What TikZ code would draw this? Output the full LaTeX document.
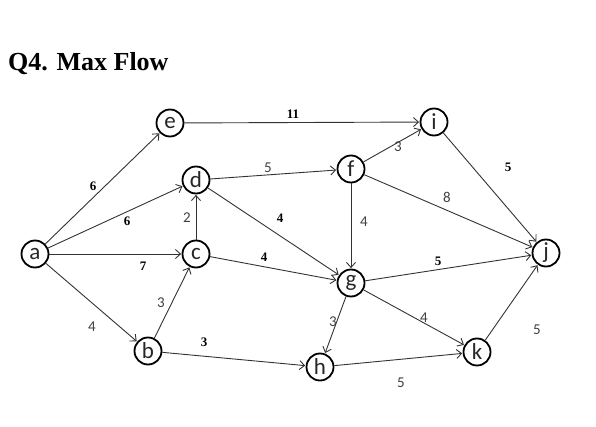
\documentclass[tikz,border=0pt]{standalone}
\usepackage{fontspec}
\setmainfont{Liberation Serif}
\newfontfamily\nodefont{Carlito}
\usetikzlibrary{arrows.meta}
\tikzset{
  vtx/.style={circle,draw=black,line width=1.8pt,minimum size=27pt,inner sep=0pt,font=\nodefont\fontsize{23}{23}\selectfont,text=black!85},
  edge/.style={draw=black!80,line width=0.9pt,-{Straight Barb[length=5pt,width=9pt,line width=0.9pt]},shorten >=0.5pt},
  wsans/.style={font=\nodefont\fontsize{15}{15}\selectfont,text=black!75,inner sep=0pt},
  wbold/.style={font=\bfseries\fontsize{13}{13}\selectfont,inner sep=0pt},
  title/.style={font=\bfseries\fontsize{26}{26}\selectfont,anchor=base west,inner sep=0pt}
}
\begin{document}
\begin{tikzpicture}[x=1pt,y=-1pt]
\useasboundingbox (0,0) rectangle (596,427);
\node[title] (t) at (8,71) {Q4. Max Flow};
\node[vtx] (a) at (35,254) {a};
\node[vtx] (e) at (170,123) {e};
\node[vtx] (d) at (196,180) {d};
\node[vtx] (c) at (196,254) {c};
\node[vtx] (b) at (148,351) {b};
\node[vtx] (f) at (351,169) {f};
\node[vtx] (i) at (434,122) {i};
\node[vtx] (g) at (351,283) {g};
\node[vtx] (j) at (546,253) {j};
\node[vtx] (h) at (320,367) {h};
\node[vtx] (k) at (477,352) {k};
\draw[edge] (a) -- (e);
\draw[edge] (a) -- (d);
\draw[edge] (a) -- (c);
\draw[edge] (a) -- (b);
\draw[edge] (b) -- (c);
\draw[edge] (c) -- (d);
\draw[edge] (b) -- (h);
\draw[edge] (e) -- (i);
\draw[edge] (d) -- (f);
\draw[edge] (d) -- (g);
\draw[edge] (c) -- (g);
\draw[edge] (f) -- (i);
\draw[edge] (f) -- (g);
\draw[edge] (f) -- (j);
\draw[edge] (i) -- (j);
\draw[edge] (g) -- (j);
\draw[edge] (g) -- (h);
\draw[edge] (g) -- (k);
\draw[edge] (h) -- (k);
\draw[edge] (k) -- (j);
\node[wbold] (lae) at (93,186) {6};
\node[wbold] (lad) at (127,221) {6};
\node[wbold] (lac) at (143,266) {7};
\node[wsans] (lcd) at (187,218) {2};
\node[wsans] (lab) at (92,327) {4};
\node[wsans] (lbc) at (161,303) {3};
\node[wbold] (lbh) at (204,342) {3};
\node[wbold] (lei) at (293,114) {11};
\node[wsans] (ldf) at (268,168) {5};
\node[wbold] (ldg) at (280,218) {4};
\node[wbold] (lcg) at (264,257) {4};
\node[wsans] (lfg) at (364,222) {4};
\node[wsans] (lfi) at (398,147) {3};
\node[wsans] (lfj) at (447,197) {8};
\node[wbold] (lij) at (508,167) {5};
\node[wbold] (lgj) at (438,261) {5};
\node[wsans] (lgh) at (333,322) {3};
\node[wsans] (lgk) at (424,318) {4};
\node[wsans] (lkj) at (537,330) {5};
\node[wsans] (lhk) at (401,383) {5};
\end{tikzpicture}
\end{document}
